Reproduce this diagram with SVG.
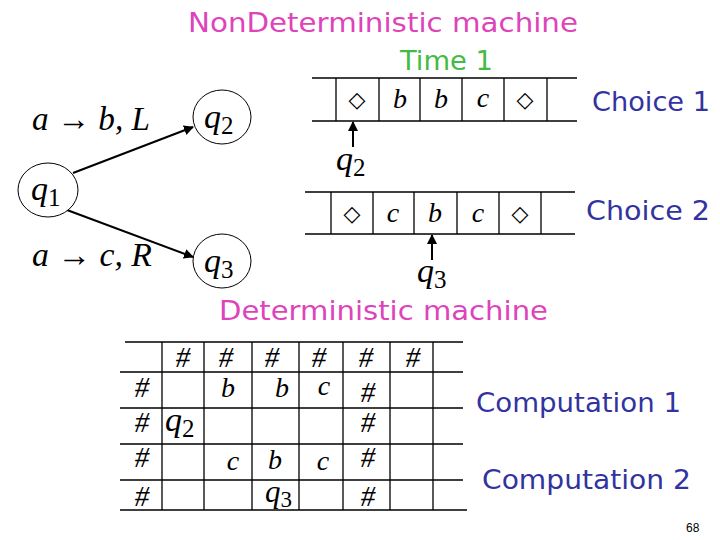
<svg xmlns="http://www.w3.org/2000/svg" width="720" height="540" viewBox="0 0 720 540">
<defs>
<style>
.pink{font-family:"DejaVu Sans","Liberation Sans",sans-serif;fill:#dd44bb;font-size:27px}
.green{font-family:"DejaVu Sans","Liberation Sans",sans-serif;fill:#44bb44;font-size:26px}
.blue{font-family:"DejaVu Sans","Liberation Sans",sans-serif;fill:#33339f;font-size:27px}
.m{font-family:"Liberation Serif",serif;font-style:italic;fill:#000;font-size:34px}
.lab{font-family:"Liberation Serif",serif;font-style:italic;fill:#000;font-size:33px}
.sub{font-family:"Liberation Serif",serif;font-style:normal;font-size:25px}
.sym{font-family:"Liberation Serif",serif;font-style:italic;fill:#000;font-size:28px;text-anchor:middle}
.hash{font-family:"Liberation Serif",serif;font-style:italic;fill:#000;font-size:29px;text-anchor:middle}
.dia{font-family:"DejaVu Sans",sans-serif;fill:#000;font-size:22px;text-anchor:middle}
.ln{stroke:#000;stroke-width:1.3;fill:none}
.st{fill:#fff;stroke:#000;stroke-width:1}
.arr{stroke:#000;stroke-width:2;fill:none}
</style>
<marker id="ah" viewBox="0 0 10 10" refX="9" refY="5" markerWidth="5" markerHeight="5" orient="auto" markerUnits="strokeWidth">
<path d="M0,0 L10,5 L0,10 z" fill="#000"/>
</marker>
</defs>
<rect width="720" height="540" fill="#fff"/>

<text class="pink" x="188" y="32" textLength="390" lengthAdjust="spacingAndGlyphs">NonDeterministic machine</text>
<text class="green" x="400" y="70" textLength="93" lengthAdjust="spacingAndGlyphs">Time 1</text>
<text class="blue" x="592" y="111" textLength="118" lengthAdjust="spacingAndGlyphs">Choice 1</text>
<text class="blue" x="586" y="220" textLength="124" lengthAdjust="spacingAndGlyphs">Choice 2</text>
<text class="pink" x="219" y="320" textLength="329" lengthAdjust="spacingAndGlyphs">Deterministic machine</text>
<text class="blue" x="476" y="412" textLength="205" lengthAdjust="spacingAndGlyphs">Computation 1</text>
<text class="blue" x="482" y="489" textLength="209" lengthAdjust="spacingAndGlyphs">Computation 2</text>
<text x="686" y="532" font-family="Liberation Sans,sans-serif" font-size="12" fill="#000">68</text>

<g id="connectors">
<line class="arr" x1="73" y1="173" x2="193" y2="127" marker-end="url(#ah)"/>
<line class="arr" x1="67" y1="210" x2="193" y2="257" marker-end="url(#ah)"/>
<line class="arr" x1="353" y1="147" x2="353" y2="122" marker-end="url(#ah)"/>
<line class="arr" x1="432" y1="260" x2="432" y2="235" marker-end="url(#ah)"/>
</g>

<g id="label1"><text class="lab" x="32" y="130" textLength="118" lengthAdjust="spacingAndGlyphs">a → b, L</text></g>
<g id="label2"><text class="lab" x="32" y="266" textLength="120" lengthAdjust="spacingAndGlyphs">a → c, R</text></g>

<g id="q1"><ellipse class="st" cx="48" cy="190" rx="30" ry="27"/><text class="m" x="31" y="200">q<tspan class="sub" dy="6">1</tspan></text></g>
<g id="q2"><ellipse class="st" cx="222" cy="117" rx="29" ry="27"/><text class="m" x="204" y="128">q<tspan class="sub" dy="6">2</tspan></text></g>
<g id="q3"><ellipse class="st" cx="222" cy="261" rx="29" ry="27"/><text class="m" x="204" y="272">q<tspan class="sub" dy="6">3</tspan></text></g>

<g id="tape1">
<path class="ln" d="M312,78 H577 M312,121 H577 M336,78 V121 M379,78 V121 M420,78 V121 M462,78 V121 M504,78 V121 M547,78 V121"/>
<text class="dia" x="357" y="107">◇</text>
<text class="sym" x="400" y="108">b</text>
<text class="sym" x="441" y="108">b</text>
<text class="sym" x="483" y="107">c</text>
<text class="dia" x="525" y="107">◇</text>
</g>
<g id="head1"><text class="m" x="336" y="170">q<tspan class="sub" dy="6">2</tspan></text></g>

<g id="tape2">
<path class="ln" d="M305,192 H575 M305,234 H575 M331,192 V234 M373,192 V234 M414,192 V234 M457,192 V234 M499,192 V234 M541,192 V234"/>
<text class="dia" x="352" y="221">◇</text>
<text class="sym" x="393" y="222">c</text>
<text class="sym" x="435" y="222">b</text>
<text class="sym" x="478" y="222">c</text>
<text class="dia" x="520" y="221">◇</text>
</g>
<g id="head2"><text class="m" x="417" y="282">q<tspan class="sub" dy="6">3</tspan></text></g>

<g id="table">
<path class="ln" d="M125,342 H463 M120,372 H463 M120,408 H463 M120,444 H463 M120,480 H463 M120,510 H467 M162,342 V510 M204,342 V510 M252,342 V510 M299,342 V510 M343,342 V510 M390,342 V510 M433,342 V510"/>
<text class="hash" x="183" y="367">#</text>
<text class="hash" x="226" y="367">#</text>
<text class="hash" x="272" y="367">#</text>
<text class="hash" x="319" y="367">#</text>
<text class="hash" x="366" y="367">#</text>
<text class="hash" x="413" y="367">#</text>
<text class="hash" x="142" y="397">#</text>
<text class="sym" x="228" y="397">b</text>
<text class="sym" x="282" y="397">b</text>
<text class="sym" x="324" y="395">c</text>
<text class="hash" x="368" y="402">#</text>
<text class="hash" x="142" y="432">#</text>
<text class="m" x="165" y="431">q<tspan class="sub" dy="6">2</tspan></text>
<text class="hash" x="368" y="432">#</text>
<text class="hash" x="142" y="467">#</text>
<text class="sym" x="233" y="470">c</text>
<text class="sym" x="275" y="469">b</text>
<text class="sym" x="323" y="470">c</text>
<text class="hash" x="368" y="467">#</text>
<text class="hash" x="142" y="506">#</text>
<text x="265" y="502" style="font-family:'Liberation Serif',serif;font-style:italic;font-size:31px">q<tspan style="font-style:normal;font-size:23px" dy="5">3</tspan></text>
<text class="hash" x="368" y="506">#</text>
</g>
</svg>
